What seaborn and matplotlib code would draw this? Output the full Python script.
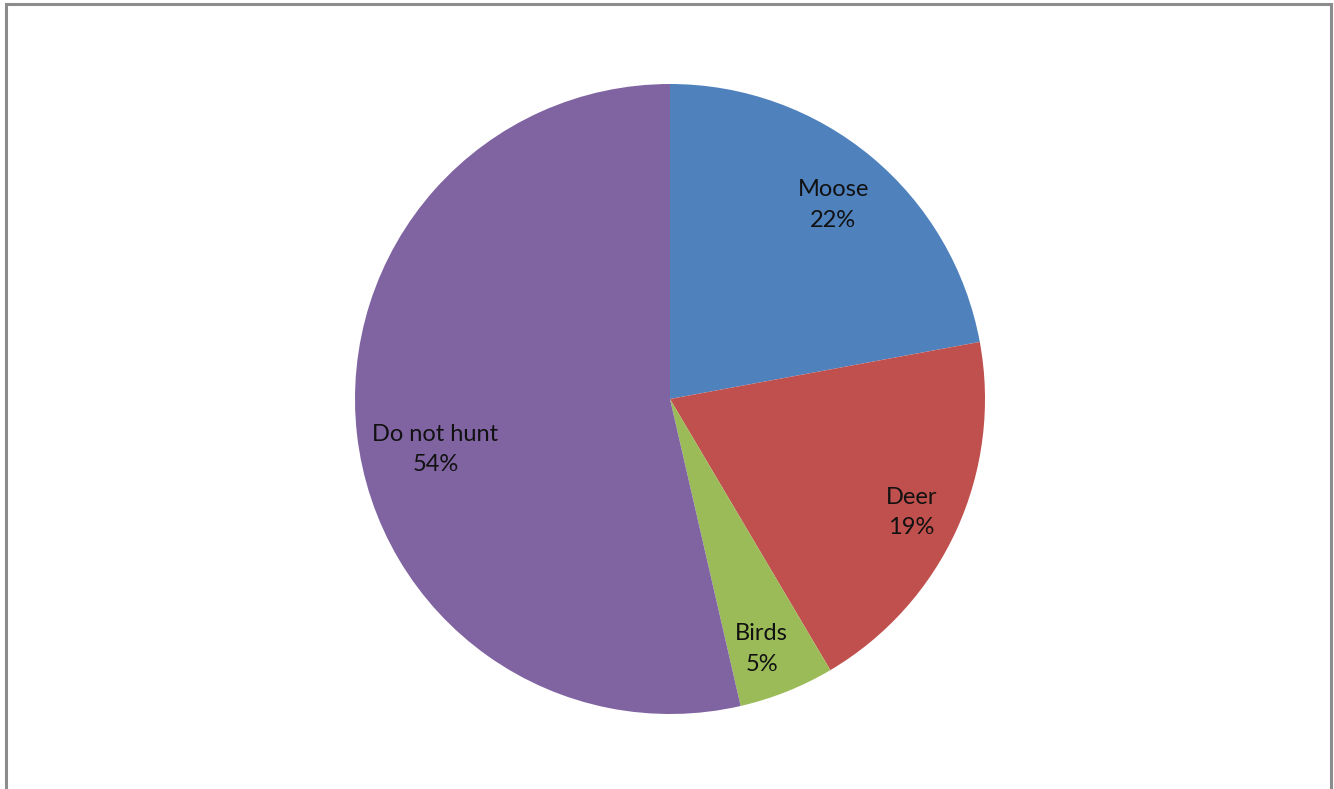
import matplotlib
matplotlib.use("Agg")
import matplotlib.pyplot as plt
import seaborn as sns
from matplotlib.patches import Rectangle

labels = ["Moose", "Deer", "Birds", "Do not hunt"]
shares = [22.1, 19.4, 4.9, 53.6]
colors = ["#4F81BD", "#C0504D", "#9BBB59", "#8064A2"]
# small label nudges (pixels, right / down) to mimic Excel's best-fit placement
nudges = [(0, 2), (9, 8), (-3, 13), (19, 22)]

sns.set_theme(style="white")
plt.rcParams['font.family'] = ['Lato', 'DejaVu Sans']

W, H = 1334, 789
fig = plt.figure(figsize=(W / 100, H / 100), dpi=100)

# pie centre and radius in pixels (from top-left)
cx, cy, r = 670, 399, 315
ax = fig.add_axes([(cx - r) / W, (H - cy - r) / H, 2 * r / W, 2 * r / H])

texts = [f"{lab}\n{v:.0f}%" for lab, v in zip(labels, shares)]
wedges, txt = ax.pie(shares, labels=texts, colors=colors, startangle=90,
                     counterclock=False, labeldistance=0.81,
                     wedgeprops=dict(linewidth=0),
                     textprops=dict(fontsize=17, color="#111111",
                                    ha="center", va="center"))
for t, (dx, dy) in zip(txt, nudges):
    t.set_horizontalalignment("center")
    t.set_multialignment("center")
    t.set_linespacing(1.55)
    x, y = t.get_position()
    t.set_position((x + dx / r, y - dy / r))
ax.set_xlim(-1, 1)
ax.set_ylim(-1, 1)
ax.set_aspect("equal")
ax.axis("off")

# outer chart frame (bottom edge is cut off in the reference)
fig.add_artist(Rectangle((6 / W, -0.05), 1325 / W, 1.05 - 4 / H,
                         transform=fig.transFigure, fill=False,
                         edgecolor="#8c8c8c", linewidth=2.2))

fig.savefig("out.png", dpi=100, facecolor="white")
